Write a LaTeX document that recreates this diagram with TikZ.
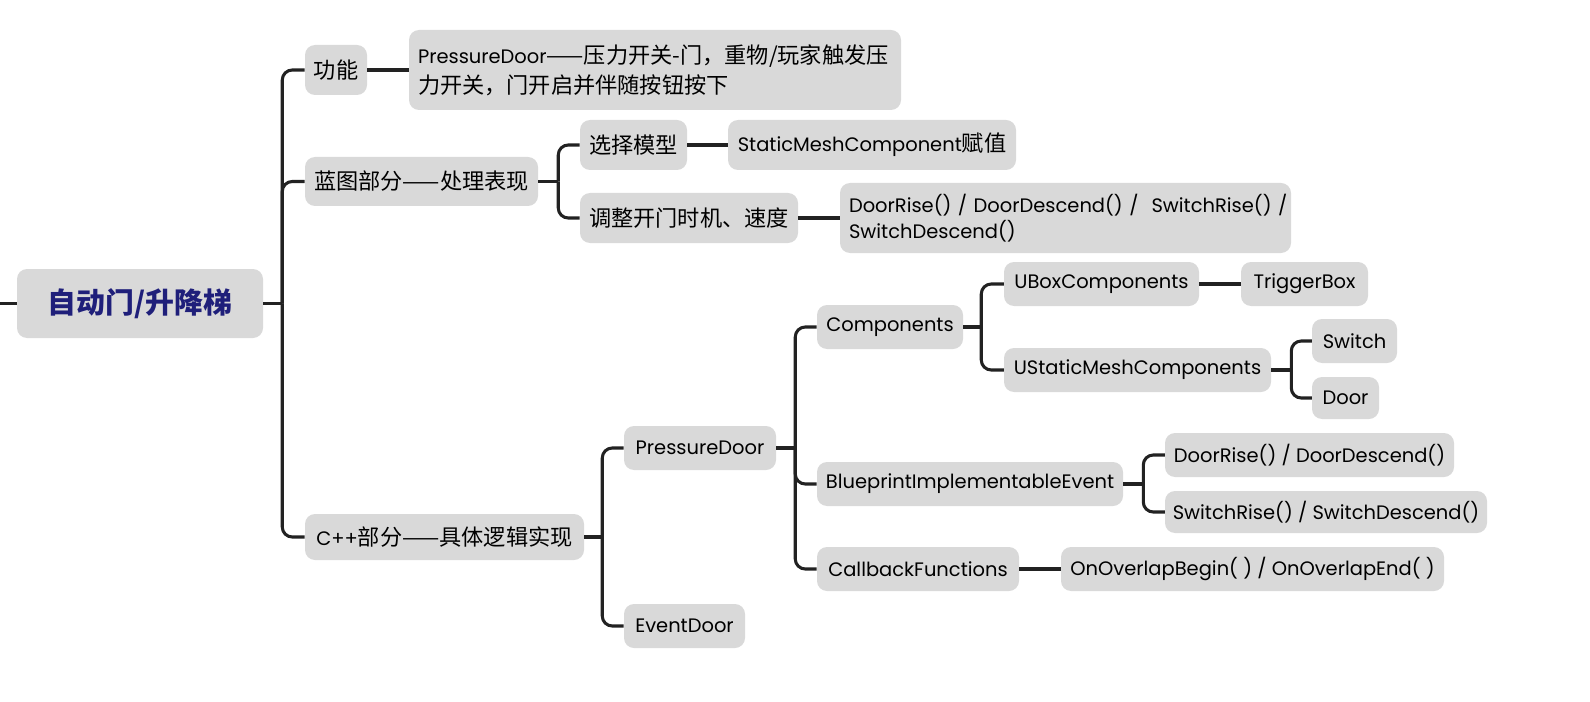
\documentclass[tikz,border=0pt]{standalone}
\usepackage{fontspec}
\setmainfont{Poppins}
\newfontfamily\cjk{Noto Sans CJK SC}[Scale=1.14]
\definecolor{boxgray}{HTML}{D9D9D9}
\definecolor{linecol}{HTML}{222222}
\definecolor{rootcol}{HTML}{1F1F7A}
\newcommand{\mmnode}[7][]{\node[box,minimum width={(#5-#3)*0.75pt},minimum height={(#6-#4)*0.75pt},#1] (#2) at ({(#3+#5)/2},{(#4+#6)/2}) {#7};}
\begin{document}
\begin{tikzpicture}[
  x=0.75pt, y=-0.75pt,
  box/.style={fill=boxgray, rounded corners=7.5pt, inner sep=0pt, font=\fontsize{14.6}{18}\selectfont, text=black},
  conn/.style={draw=linecol, line width=2.3pt},
  fork/.style={conn, rounded corners=7.5pt},
  twoline/.style={align=left, text width={(#1)*0.75pt}}
]
\useasboundingbox (0,0) rectangle (1590,702);

% root
\mmnode[font=\fontsize{19}{22}\selectfont\bfseries, text=rootcol]{root}{17}{269}{263}{338}{\cjk 自动门/升降梯}

% level 1
\mmnode{gn}{305}{45}{367}{95}{\cjk 功能}
\mmnode{lt}{305}{157}{538}{206}{\cjk 蓝图部分——处理表现}
\mmnode{cpp}{305}{514}{584}{560}{C++{\cjk 部分——具体逻辑实现}}

% function text
\mmnode[twoline=474, font=\fontsize{14.6}{22.5}\selectfont]{pdt}{409}{30}{901}{110}{\mbox{PressureDoor{\cjk ——压力开关-门，重物/玩家触发压}}\\\mbox{\cjk 力开关，门开启并伴随按钮按下}}

% blueprint branch
\mmnode{xz}{580}{120}{687}{170}{\cjk 选择模型}
\mmnode{smc}{728}{120}{1016}{170}{StaticMeshComponent{\cjk 赋值}}
\mmnode{tz}{580}{193}{798}{243}{\cjk 调整开门时机、速度}
\mmnode[twoline=433, font=\fontsize{14.6}{19.5}\selectfont]{drs}{840}{183}{1291}{253}{\mbox{DoorRise() / DoorDescend() /\ \ SwitchRise() /}\\\mbox{SwitchDescend()}}

% C++ branch
\mmnode{pd}{624}{426}{776}{470}{PressureDoor}
\mmnode{ed}{624}{604}{745}{648}{EventDoor}
\mmnode{comp}{817}{305}{963}{349}{Components}
\mmnode{bie}{817}{462}{1123}{506}{BlueprintImplementableEvent}
\mmnode{cb}{817}{547}{1019}{591}{CallbackFunctions}
\mmnode{ubox}{1004}{262}{1199}{306}{UBoxComponents}
\mmnode{tb}{1241}{262}{1368}{306}{TriggerBox}
\mmnode{usm}{1004}{348}{1271}{392}{UStaticMeshComponents}
\mmnode{sw}{1312}{319}{1397}{363}{Switch}
\mmnode{dr}{1312}{377}{1379}{419}{Door}
\mmnode{dd}{1165}{433}{1454}{477}{DoorRise() / DoorDescend()}
\mmnode{sd}{1165}{491}{1487}{533}{SwitchRise() / SwitchDescend()}
\mmnode{ov}{1061}{547}{1444}{591}{OnOverlapBegin( ) / OnOverlapEnd( )}

% connectors
\coordinate (edge) at (0,303.5);
\draw[conn] (edge) -- (root.west);

\draw[conn] (root.east) -- ++(19,0) coordinate (j0);
\draw[fork] (j0) |- (gn.west);
\draw[fork] (j0) |- (lt.west);
\draw[fork] (j0) |- (cpp.west);

\draw[conn] (gn.east) -- (pdt.west);

\draw[conn] (lt.east) -- ++(20,0) coordinate (j1);
\draw[fork] (j1) |- (xz.west);
\draw[fork] (j1) |- (tz.west);
\draw[conn] (xz.east) -- (smc.west);
\draw[conn] (tz.east) -- (drs.west);

\draw[conn] (cpp.east) -- ++(18,0) coordinate (j2);
\draw[fork] (j2) |- (pd.west);
\draw[fork] (j2) |- (ed.west);

\draw[conn] (pd.east) -- ++(19,0) coordinate (j3);
\draw[fork] (j3) |- (comp.west);
\draw[fork] (j3) |- (bie.west);
\draw[fork] (j3) |- (cb.west);

\draw[conn] (comp.east) -- ++(18,0) coordinate (j4);
\draw[fork] (j4) |- (ubox.west);
\draw[fork] (j4) |- (usm.west);
\draw[conn] (ubox.east) -- (tb.west);

\draw[conn] (usm.east) -- ++(20,0) coordinate (j5);
\draw[fork] (j5) |- (sw.west);
\draw[fork] (j5) |- (dr.west);

\draw[conn] (bie.east) -- ++(20,0) coordinate (j6);
\draw[fork] (j6) |- (dd.west);
\draw[fork] (j6) |- (sd.west);

\draw[conn] (cb.east) -- (ov.west);
\end{tikzpicture}
\end{document}
